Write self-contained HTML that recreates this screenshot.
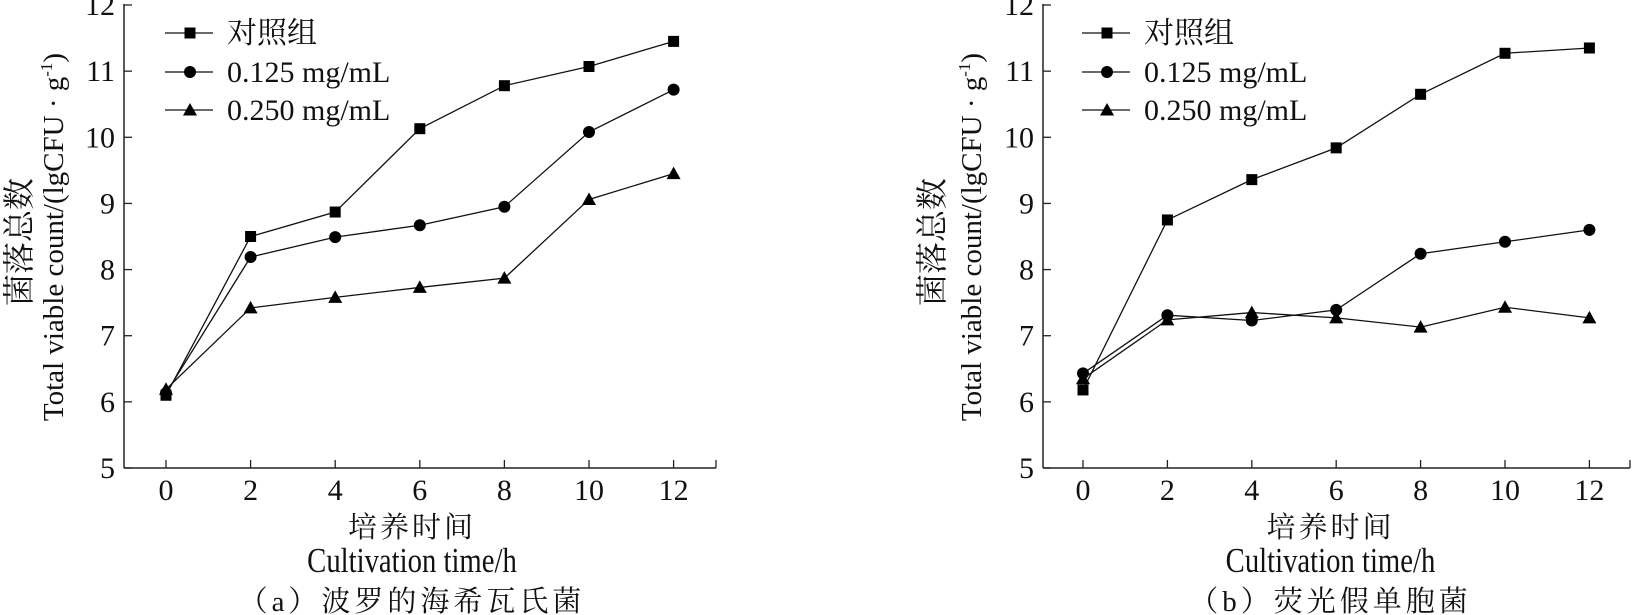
<!DOCTYPE html>
<html><head><meta charset="utf-8"><style>
html,body{margin:0;padding:0;background:#fff;}
svg{display:block;}
text{font-family:"Liberation Serif","Noto Serif CJK SC",serif;fill:#111;}
.cjk{font-family:"Liberation Serif","Noto Serif CJK SC",serif;}
</style></head><body>
<svg width="1633" height="615" viewBox="0 0 1633 615" xmlns="http://www.w3.org/2000/svg">
<defs>
<g id="sq"><rect x="-5.5" y="-5.5" width="11" height="11" fill="#000"/></g>
<g id="ci"><circle r="6" fill="#000"/></g>
<g id="tr"><polygon points="0,-7 7,5.5 -7,5.5" fill="#000"/></g>
</defs>
<g id="charts"></g>
</svg>
<script>
const NS="http://www.w3.org/2000/svg";
const root=document.getElementById("charts");
function el(t,a,txt){const e=document.createElementNS(NS,t);for(const k in a)e.setAttribute(k,a[k]);if(txt!==undefined)e.textContent=txt;root.appendChild(e);return e;}
function chart(ax,x0,xEnd,data,cap,ylx,ylx2,cxo){
 const y5=468,unit=(468-5)/7,dx=(x0===166?84.6:84.4);
 const Y=v=>y5-(v-5)*unit, X=i=>x0+i*dx;
 el("line",{x1:ax,y1:4,x2:ax,y2:y5,stroke:"#222","stroke-width":1.5});
 el("line",{x1:ax,y1:y5,x2:xEnd,y2:y5,stroke:"#222","stroke-width":1.5});
 for(let v=5;v<=12;v++){el("line",{x1:ax,y1:Y(v),x2:ax+8,y2:Y(v),stroke:"#222","stroke-width":1.3});
  el("text",{x:ax-9,y:Y(v)+10,"font-size":30,"text-anchor":"end"},String(v));}
 for(let i=0;i<=6;i++){el("line",{x1:X(i),y1:y5,x2:X(i),y2:y5-8,stroke:"#222","stroke-width":1.3});
  el("text",{x:X(i),y:500,"font-size":30,"text-anchor":"middle"},String(i*2));}
 el("line",{x1:xEnd,y1:y5,x2:xEnd,y2:y5-8,stroke:"#222","stroke-width":1.3});
 const marks=["sq","ci","tr"];
 data.forEach((d,k)=>{
  el("polyline",{points:d.map((v,i)=>X(i)+","+Y(v)).join(" "),fill:"none",stroke:"#111","stroke-width":1.3});
  d.forEach((v,i)=>el("use",{href:"#"+marks[k],x:X(i),y:Y(v)}));
 });
 const labs=["对照组","0.125 mg/mL","0.250 mg/mL"],ly=[33,72,110];
 for(let k=0;k<3;k++){el("line",{x1:x0-1,y1:ly[k],x2:x0+47,y2:ly[k],stroke:"#111","stroke-width":1.3});
  el("use",{href:"#"+marks[k],x:x0+24,y:ly[k]});
  el("text",{x:x0+61,y:ly[k]+10,"font-size":30,class:k==0?"cjk":""},labs[k]);}
 const cx=(ax+xEnd)/2+cxo;
 el("text",{x:cx,y:537,"font-size":29,"letter-spacing":3,"text-anchor":"middle",class:"cjk"},"培养时间");
 el("text",{x:cx,y:572,"font-size":35,"text-anchor":"middle",transform:`translate(${cx},0) scale(0.82,1) translate(${-cx},0)`},"Cultivation time/h");
 el("text",{x:cx,y:611,"font-size":29,"letter-spacing":4,"text-anchor":"middle",class:"cjk"},cap);
 el("text",{x:0,y:0,"font-size":32,"text-anchor":"middle",class:"cjk",transform:`translate(${ylx},242) rotate(-90)`},"菌落总数");
 const t2=el("text",{x:0,y:0,"font-size":29,"text-anchor":"middle",transform:`translate(${ylx2},237) rotate(-90)`});
 t2.innerHTML='Total viable count/(lgCFU · g<tspan font-size="17" dy="-11">-1</tspan><tspan dy="11">)</tspan>';
}
chart(124,166,716,[[6.1,8.5,8.87,10.13,10.78,11.07,11.45],[6.13,8.19,8.49,8.67,8.95,10.08,10.72],[6.19,7.42,7.58,7.73,7.87,9.06,9.45]],"（a）波罗的海希瓦氏菌",30,63,-8);
chart(1043,1083,1630,[[6.18,8.75,9.36,9.84,10.65,11.27,11.35],[6.43,7.31,7.23,7.39,8.24,8.42,8.6],[6.35,7.24,7.35,7.27,7.13,7.43,7.27]],"（b）荧光假单胞菌",943,981,-6);
</script>
</body></html>
